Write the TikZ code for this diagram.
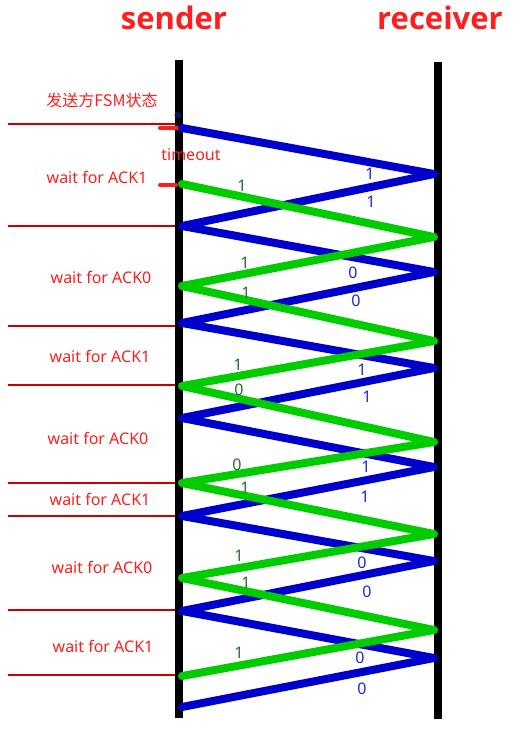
\documentclass[tikz,border=0pt]{standalone}
\usepackage{fontspec}
\setmainfont{Noto Sans}
\newfontfamily\cjk{Noto Sans CJK SC}
\newfontfamily\titlefont{Open Sans}
\usetikzlibrary{positioning}

\definecolor{zigblue}{RGB}{0,0,204}
\definecolor{ziggreen}{RGB}{0,204,0}
\definecolor{statered}{RGB}{200,0,0}
\definecolor{labelred}{RGB}{255,30,30}
\definecolor{numgreen}{RGB}{40,110,40}
\definecolor{numblue}{RGB}{30,40,210}
\definecolor{dotnavy}{RGB}{10,20,90}

\tikzset{
  lifeline/.style={line width=8pt},
  bluezig/.style={zigblue, line width=8pt, line cap=round, line join=round},
  greenzig/.style={ziggreen, line width=8pt, line cap=round, line join=round},
  stateline/.style={statered, line width=2.5pt},
  stub/.style={labelred, line width=4pt, line cap=round},
  title/.style={labelred, font=\titlefont\fontsize{31}{33}\selectfont\bfseries},
  statelabel/.style={labelred, font=\fontsize{16}{18}\selectfont},
  bnum/.style={numblue, font=\fontsize{16}{18}\selectfont},
  gnum/.style={numgreen, font=\fontsize{16}{18}\selectfont}
}

\begin{document}
\begin{tikzpicture}[x=1pt, y=-1pt]
\useasboundingbox (0,0) rectangle (528,731);

% titles
\node[title](sender) at (174,18){sender};
\node[title](receiver) at (440,18){receiver};

% lifelines
\coordinate (stop) at (179,60);
\coordinate (sbot) at (179,718);
\coordinate (rtop) at (438,62);
\coordinate (rbot) at (438,719);
\draw[lifeline] (stop) -- (sbot);
\draw[lifeline] (rtop) -- (rbot);

% state boundaries
\foreach \y [count=\i] in {124,226,326,385,483,516,610,675}{
  \coordinate (l\i) at (8,\y);
  \coordinate (s\i) at (175,\y);
  \draw[stateline] (l\i) -- (s\i);
}
\coordinate (ta) at (160,128);
\coordinate (tb) at (178,128);
\coordinate (tc) at (160,185);
\coordinate (td) at (176,185);
\draw[stub] (ta) -- (tb);
\draw[stub] (tc) -- (td);
\fill[dotnavy] (178,115) circle (3.5pt);

% blue zigzag
\foreach \x/\y [count=\i] in {182/128,434/174,182/226,434/272,182/323,434/368,
  182/418,434/467,182/516,434/561,182/611,434/658,182/707}
  \coordinate (b\i) at (\x,\y);
\draw[bluezig] (b1) \foreach \i in {2,...,13}{ -- (b\i)};

% green zigzag
\foreach \x/\y [count=\i] in {182/184,434/237,182/286,434/341,182/386,434/442,
  182/483,434/534,182/578,434/630,182/676}
  \coordinate (g\i) at (\x,\y);
\draw[greenzig] (g1) \foreach \i in {2,...,11}{ -- (g\i)};

% sequence numbers
\foreach \x/\y/\t [count=\i] in {370/174/1,371/202/1,353/273/0,356/301/0,
  362/370/1,367/397/1,366/467/1,365/497/1,362/563/0,367/592/0,360/658/0,362/689/0}
  \node[bnum](bn\i) at (\x,\y){\t};
\foreach \x/\y/\t [count=\i] in {242/186/1,245/263/1,246/293/1,238/365/1,
  239/390/0,237/465/0,245/488/1,239/556/1,246/583/1,239/653/1}
  \node[gnum](gn\i) at (\x,\y){\t};

% state labels
\node[statelabel](fsm) at (102,100){\cjk 发送方FSM状态};
\node[statelabel](timeout) at (191,155){timeout};
\foreach \x/\y/\t [count=\i] in {97/177/1,101/277/0,100/356/1,98/438/0,
  100/499/1,102/567/0,103/646/1}
  \node[statelabel](w\i) at (\x,\y){wait for ACK\t};
\end{tikzpicture}
\end{document}
